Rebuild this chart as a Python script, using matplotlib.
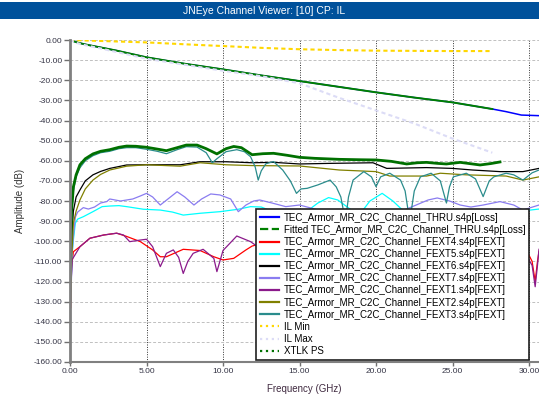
import matplotlib
matplotlib.use("Agg")
from matplotlib import pyplot as plt
from matplotlib.patches import Rectangle
from matplotlib.lines import Line2D

plt.rcParams['font.family'] = ['Liberation Sans', 'DejaVu Sans']

# insertion loss of the thru channel
thru_f = [0, 0.5, 1, 2, 3, 5, 7.5, 10, 12.5, 15, 17.5, 20, 22.5, 25, 27.6, 28.5, 29.5, 30.65]
thru_db = [0, -1.3, -2.2, -3.7, -5.2, -8.6, -11.8, -14.6, -17.6, -20.4, -23.2, -26.0, -28.6, -31.0,
           -34.3, -35.6, -37.3, -37.6]
fit_f = thru_f[:15]
fit_db = thru_db[:15]

# IL limits
ilmin_f = [0, 2.5, 5, 8.5, 10, 12.5, 15, 17.5, 20, 25, 27.6]
ilmin_db = [0, -0.6, -1.2, -2.5, -3.0, -3.9, -4.6, -5.0, -5.3, -5.5, -5.5]
ilmax_f = [0, 0.5, 1, 2, 5, 10, 12.5, 15, 17.5, 20, 22.5, 25, 27.6]
ilmax_db = [0, -1.6, -2.6, -4.2, -9.3, -15.3, -18, -21.5, -28.5, -35, -41.5, -49, -56]

# crosstalk power sum
xtlk_f = [0.02, 0.1, 0.22, 0.4, 0.65, 1.0, 1.5, 2.0, 2.6, 3.2, 3.7, 4.3, 5.0, 5.7, 6.3, 7.0, 7.6, 8.3,
          8.9, 9.6, 10.2, 10.7, 11.2, 11.9, 12.6, 13.3, 14.2, 15.0, 16.0, 17.6, 19.0, 20.0, 21.0, 22.0,
          22.7, 23.3, 24.0, 24.6, 25.5, 26.2, 26.8, 27.5, 28.1]
xtlk_db = [-110, -85, -73, -67, -62, -59, -56.6, -55.3, -54.5, -53.3, -52.7, -52.8, -53.3, -54.2, -55,
           -53.5, -52.2, -52.2, -54, -56.6, -54, -52.9, -53.5, -57, -56.5, -56.3, -57.3, -58.3, -58.8,
           -59.3, -59.5, -59.6, -60.3, -61.6, -61, -60.8, -61.3, -61.6, -60.8, -61.5, -62.1, -61.4, -60.6]

# FEXT curves
fext4_f = [0.05, 0.1, 0.22, 0.65, 1.3, 2.2, 3.05, 3.7, 4.6, 5.4, 5.9, 6.3, 7.4, 8.5, 9.4, 10.0, 10.7,
           11.5, 11.9, 13, 15, 17, 19, 21, 23, 25, 27, 29, 29.8, 30.2, 30.4, 30.55, 30.65]
fext4_db = [-133, -113, -105.2, -102.7, -98.5, -96.9, -96, -97.6, -100.2, -104.3, -107.7, -107.7, -104,
            -104.6, -107.7, -109.3, -108.5, -104.3, -102.4, -100, -103, -106, -104, -107, -105, -108,
            -106, -103, -104, -110, -120, -110, -105]

fext5_f = [0.05, 0.15, 0.22, 0.35, 0.5, 0.87, 1.5, 2.1, 2.6, 3.2, 3.7, 4.8, 5.9, 6.7, 7.4, 8.5, 9.8,
           11.0, 11.8, 12.5, 13.5, 14.5, 15.5, 16.2, 16.9, 17.5, 18.3, 18.9, 19.6, 20.4, 21.1, 21.8,
           23, 24.5, 26, 27.5, 28.5, 29.5, 30.65]
fext5_db = [-125, -105, -99.4, -91, -89, -87.8, -85.3, -82.8, -82.5, -82.3, -82.8, -84.1, -84.5, -85.5,
            -87, -86.1, -85.3, -84.1, -82.8, -83, -86, -88, -85, -81, -78.3, -79.5, -84, -87, -80,
            -76.2, -80, -85, -88, -87, -88, -87, -86, -85, -84]

fext6_f = [0.05, 0.1, 0.22, 0.4, 0.65, 1.0, 1.5, 2.0, 2.6, 3.7, 5.0, 7.2, 8.5, 10.2, 11.9, 13.3, 15.0,
           17, 19.8, 20.7, 22, 23.3, 25, 26.3, 28.1, 29.6, 30.65]
fext6_db = [-125, -100, -85, -78, -74.5, -70, -67, -65.3, -63.8, -62.1, -62, -62, -60.5, -60.5, -61,
            -60.8, -61.6, -61.3, -61, -63.8, -63.6, -63.4, -63.8, -64.6, -65.4, -65.4, -63.8]

fext7_f = [0.05, 0.15, 0.22, 0.35, 0.5, 0.87, 1.2, 1.6, 2.0, 2.4, 2.6, 3.3, 4.1, 4.6, 5.0, 5.4, 5.9,
           6.4, 7.0, 7.5, 8.1, 8.6, 9.2, 9.8, 10.5, 11.0, 11.5, 12.0, 12.4, 13.2, 14.1, 15.0, 16, 17,
           18, 19, 20, 21, 22, 23.4, 24.0, 24.8, 25.5, 26.2, 27.0, 28.1, 29.0, 29.6, 30.65]
fext7_db = [-130, -105, -97.7, -88, -85.5, -83.3, -84, -83, -81, -80.3, -79, -80, -79, -77.5, -76.2,
            -78, -82, -79, -75.4, -78, -82, -79, -76.5, -77, -79, -85.3, -82, -80, -79.5, -81, -82.8,
            -82, -84, -87, -86, -88, -85, -87, -84, -79.5, -78.5, -80, -82, -83, -82, -80.3, -82,
            -84.5, -82]

fext1_f = [0.05, 0.1, 0.15, 0.65, 1.3, 2.2, 3.05, 3.5, 3.9, 4.6, 5.0, 5.4, 5.9, 6.3, 6.75, 7.1, 7.4,
           7.7, 8.05, 8.7, 9.4, 9.6, 10.0, 10.9, 11.8, 12.5, 13.3, 14, 15, 16, 17, 18, 19, 20, 21,
           22, 24, 26, 28, 29.6, 30.2, 30.4, 30.55, 30.65]
fext1_db = [-125, -116, -109, -102.7, -98.5, -96.9, -96, -96.9, -100.2, -99.4, -99, -102.7, -112.6,
            -106, -104.3, -108, -116, -110, -106, -104, -108.5, -115.1, -104.6, -97.4, -100.2, -104,
            -112, -104, -101, -108, -102, -110, -103, -112, -105, -109, -104, -110, -105, -104, -112,
            -122.6, -112, -104]

fext2_f = [0.05, 0.1, 0.22, 0.4, 0.65, 1.0, 1.5, 2.0, 2.6, 3.7, 5.0, 7.2, 8.5, 10.2, 11.9, 15.0,
           17.6, 20.0, 20.9, 23.3, 24.2, 25.9, 28.5, 29.6, 30.65]
fext2_db = [-130, -110, -91, -85, -79.5, -74, -69.6, -66.8, -64.6, -62.7, -62, -62.7, -61, -62, -62.4,
            -62.6, -64.6, -65.4, -67.6, -67.6, -66.2, -67, -67.6, -69.6, -68]

fext3_f = [0.02, 0.1, 0.22, 0.4, 0.65, 1.0, 1.5, 2.0, 2.6, 3.2, 3.7, 4.3, 5.0, 5.7, 6.3, 7.0, 7.6,
           8.3, 8.9, 9.3, 9.6, 10.2, 10.9, 11.4, 11.8, 12.1, 12.3, 12.5, 12.8, 13.3, 13.9, 14.4, 14.8,
           15.1, 15.5, 16.2, 17.0, 17.4, 17.7, 18.0, 18.2, 18.5, 19.2, 19.7, 20.0, 20.3, 20.9, 21.6,
           21.9, 22.2, 22.5, 22.9, 23.6, 24.2, 24.6, 24.8, 25.05, 25.9, 26.5, 27.0, 27.4, 27.7, 28.5,
           29.0, 29.6, 30.2, 30.65]
fext3_db = [-112, -88, -75, -68, -63.5, -60, -57.5, -56, -55.3, -54, -53.5, -53.5, -54.3, -55.3, -56.5,
            -54.5, -53, -53.2, -56, -61, -59, -55.5, -54.5, -55.5, -58, -63, -69.6, -65, -61.5, -60.4,
            -64.6, -70, -76.2, -74, -73.7, -72, -69.6, -73, -78, -90, -78, -69.6, -65.4, -68, -72.9,
            -68, -66.2, -69.6, -75, -90, -75, -68, -66.2, -70, -81, -73, -68, -66.2, -69, -77.8, -70,
            -68, -66.2, -67, -69.6, -66, -64.6]

labels = ["TEC_Armor_MR_C2C_Channel_THRU.s4p[Loss]",
          "Fitted TEC_Armor_MR_C2C_Channel_THRU.s4p[Loss]",
          "TEC_Armor_MR_C2C_Channel_FEXT4.s4p[FEXT]",
          "TEC_Armor_MR_C2C_Channel_FEXT5.s4p[FEXT]",
          "TEC_Armor_MR_C2C_Channel_FEXT6.s4p[FEXT]",
          "TEC_Armor_MR_C2C_Channel_FEXT7.s4p[FEXT]",
          "TEC_Armor_MR_C2C_Channel_FEXT1.s4p[FEXT]",
          "TEC_Armor_MR_C2C_Channel_FEXT2.s4p[FEXT]",
          "TEC_Armor_MR_C2C_Channel_FEXT3.s4p[FEXT]",
          "IL Min", "IL Max", "XTLK PS"]
colors = ["#0000ff", "#008000", "#ff0000", "#00ffff", "#000000", "#8a7cf0", "#8b1a8b",
          "#808000", "#2a8c8c", "#ffd700", "#dcdcf6", "#007000"]
legend_styles = ["-", "--", "-", "-", "-", "-", "-", "-", "-", ":", ":", ":"]

fig = plt.figure(figsize=(5.39, 3.98), dpi=100)
ax = fig.add_axes([70 / 539, 1 - 362 / 398, 469 / 539, 322 / 398])

# title bar
fig.patches.append(Rectangle((0, 1 - 19 / 398), 1, 17 / 398, transform=fig.transFigure,
                             facecolor="#00519b", edgecolor="none"))
fig.text(0.49, 1 - 10.5 / 398, "JNEye Channel Viewer: [10] CP: IL", color="white",
         fontsize=7.5, ha="center", va="center")

ax.plot(thru_f, thru_db, color=colors[0], lw=1.1)
ax.plot(fit_f, fit_db, color=colors[1], lw=1.4)
ax.plot(fext4_f, fext4_db, color=colors[2], lw=0.9)
ax.plot(fext5_f, fext5_db, color=colors[3], lw=0.9)
ax.plot(fext6_f, fext6_db, color=colors[4], lw=0.9)
ax.plot(fext7_f, fext7_db, color=colors[5], lw=0.9)
ax.plot(fext1_f, fext1_db, color=colors[6], lw=0.9)
ax.plot(fext2_f, fext2_db, color=colors[7], lw=0.9)
ax.plot(fext3_f, fext3_db, color=colors[8], lw=0.9)
ax.plot(ilmin_f, ilmin_db, color=colors[9], lw=1.5, ls=(0, (2, 1.5)))
ax.plot(ilmax_f, ilmax_db, color=colors[10], lw=1.5, ls=(0, (2, 1.5)))
ax.plot(xtlk_f, xtlk_db, color=colors[11], lw=2.0)

ax.set_xlim(0, 30.65)
ax.set_ylim(-160, 0)
ax.set_xticks(range(0, 31, 5))
ax.set_yticks(range(-160, 1, 10))
ax.xaxis.set_major_formatter(matplotlib.ticker.FormatStrFormatter("%.2f"))
ax.yaxis.set_major_formatter(matplotlib.ticker.FormatStrFormatter("%.2f"))
ax.tick_params(axis="both", labelsize=6, colors="#333344", pad=1.5)
ax.tick_params(axis="y", length=4, color="#707070", width=1)
ax.tick_params(axis="x", length=3, color="#707070", width=1)

ax.yaxis.grid(True, color="#c0c0c0", ls=(0, (3, 2)), lw=0.7)
ax.xaxis.grid(True, color="#303030", ls=(0, (1, 1.5)), lw=0.7)
ax.set_axisbelow(True)

for s in ["top", "right"]:
    ax.spines[s].set_visible(False)
ax.spines["left"].set_color("#808080")
ax.spines["left"].set_linewidth(2)
ax.spines["bottom"].set_color("#808080")
ax.spines["bottom"].set_linewidth(1.5)

ax.set_xlabel("Frequency (GHz)", fontsize=7, color="#402a40", labelpad=6)
ax.set_ylabel("Amplitude (dB)", fontsize=7, color="#333333", labelpad=6)

# legend shows the line styles, the plot draws them densely
handles = [Line2D([], [], color=c, lw=1.6, ls=s) for c, s in zip(colors, legend_styles)]
leg = ax.legend(handles, labels, loc="lower right", bbox_to_anchor=(0.979, 0.006), borderaxespad=0,
                fontsize=7, frameon=True, fancybox=False, framealpha=1, edgecolor="#202020",
                handlelength=1.9, handletextpad=0.5, labelspacing=0.22, borderpad=0.4)
leg.get_frame().set_linewidth(1.2)

fig.savefig("out.png", dpi=100)
